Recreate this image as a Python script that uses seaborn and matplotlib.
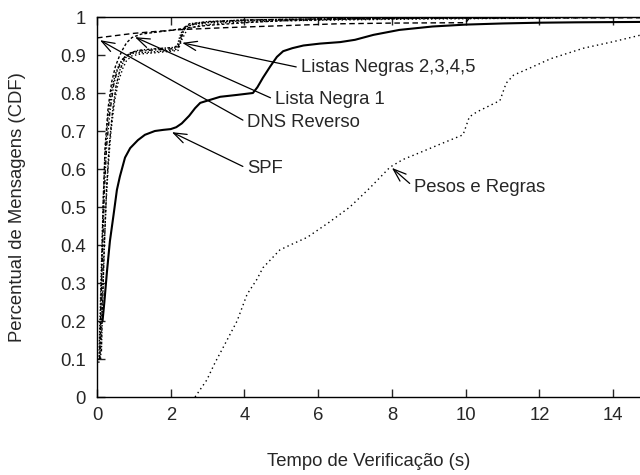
import matplotlib
matplotlib.use("Agg")
import matplotlib.pyplot as plt
import seaborn as sns

# --- CDF curves of verification time (seconds) per filtering technique ---
spf_t = [0.15, 0.2, 0.27, 0.35, 0.45, 0.54, 0.62, 0.76, 0.9, 1.11, 1.3, 1.57, 1.8,
         2.0, 2.15, 2.3, 2.5, 2.66, 2.8, 3.0, 3.34, 3.8, 4.23, 4.35, 4.5, 4.7, 4.88,
         5.05, 5.3, 5.6, 6.05, 6.6, 7.0, 7.5, 8.2, 9.1, 10.0, 11.0, 12.0, 13.0, 14.73]
spf_p = [0.20, 0.25, 0.33, 0.41, 0.48, 0.545, 0.58, 0.63, 0.655, 0.676, 0.69, 0.70,
         0.703, 0.705, 0.71, 0.72, 0.74, 0.76, 0.774, 0.78, 0.79, 0.795, 0.80, 0.815,
         0.84, 0.87, 0.895, 0.91, 0.918, 0.925, 0.93, 0.934, 0.94, 0.953, 0.966,
         0.975, 0.98, 0.983, 0.985, 0.986, 0.987]

pesos_t = [2.66, 2.98, 3.2, 3.42, 3.8, 4.07, 4.34, 4.5, 4.96, 5.24, 5.7, 6.3, 6.86,
           7.4, 7.95, 8.3, 8.68, 9.3, 9.93, 10.1, 10.3, 10.93, 11.1, 11.3, 11.75,
           12.3, 13.2, 14.0, 14.73]
pesos_p = [0.0, 0.045, 0.09, 0.13, 0.20, 0.27, 0.31, 0.34, 0.387, 0.40, 0.42, 0.46,
           0.50, 0.55, 0.605, 0.625, 0.64, 0.665, 0.69, 0.737, 0.75, 0.78, 0.826,
           0.847, 0.866, 0.89, 0.918, 0.935, 0.952]

dns_t = [0.0, 0.5, 1.0, 1.6, 2.3, 3.5, 5.0, 6.5, 8.0, 10.0, 10.1, 14.73]
dns_p = [0.945, 0.951, 0.957, 0.962, 0.967, 0.972, 0.977, 0.982, 0.984, 0.985,
         0.997, 0.998]

ln1_t = [0.08, 0.1, 0.13, 0.17, 0.22, 0.3, 0.4, 0.5, 0.6, 0.7, 0.8, 0.95, 1.2, 1.6,
         2.0, 2.5, 3.0, 4.0, 5.0, 7.0, 10.0, 14.73]
ln1_p = [0.10, 0.2, 0.35, 0.52, 0.66, 0.76, 0.83, 0.87, 0.895, 0.915, 0.932, 0.946,
         0.955, 0.96, 0.965, 0.972, 0.978, 0.985, 0.99, 0.995, 0.998, 1.0]

ln2_t = [0.05, 0.08, 0.12, 0.17, 0.22, 0.3, 0.4, 0.5, 0.6, 0.7, 0.85, 1.0, 1.5, 2.0,
         2.15, 2.25, 2.35, 2.6, 3.0, 4.0, 6.0, 10.0, 14.73]
ln2_p = [0.09, 0.2, 0.35, 0.52, 0.64, 0.74, 0.81, 0.85, 0.875, 0.89, 0.90, 0.905,
         0.908, 0.912, 0.915, 0.95, 0.972, 0.98, 0.985, 0.99, 0.994, 0.997, 1.0]

ln3_t = [0.07, 0.1, 0.15, 0.2, 0.26, 0.35, 0.45, 0.55, 0.65, 0.75, 0.9, 1.1, 1.5, 2.0,
         2.2, 2.3, 2.4, 2.7, 3.2, 4.0, 6.0, 10.0, 14.73]
ln3_p = [0.10, 0.22, 0.38, 0.54, 0.66, 0.75, 0.82, 0.86, 0.88, 0.895, 0.905, 0.91,
         0.913, 0.916, 0.92, 0.955, 0.975, 0.983, 0.988, 0.992, 0.995, 0.998, 1.0]

ln4_t = [0.1, 0.13, 0.18, 0.24, 0.3, 0.38, 0.48, 0.58, 0.7, 0.8, 0.95, 1.2, 1.6, 2.0,
         2.2, 2.3, 2.45, 2.8, 3.5, 5.0, 8.0, 12.0, 14.73]
ln4_p = [0.10, 0.21, 0.36, 0.5, 0.6, 0.7, 0.78, 0.83, 0.865, 0.885, 0.898, 0.903,
         0.906, 0.91, 0.912, 0.94, 0.968, 0.978, 0.985, 0.99, 0.994, 0.997, 1.0]

ln5_t = [0.12, 0.15, 0.2, 0.26, 0.33, 0.42, 0.52, 0.62, 0.75, 0.9, 1.1, 1.4, 1.8, 2.1,
         2.25, 2.35, 2.5, 3.0, 4.0, 6.0, 10.0, 14.73]
ln5_p = [0.12, 0.24, 0.4, 0.55, 0.66, 0.75, 0.82, 0.86, 0.89, 0.905, 0.912, 0.915,
         0.918, 0.92, 0.93, 0.965, 0.982, 0.988, 0.992, 0.995, 0.998, 1.0]

x_ticks = [0, 2, 4, 6, 8, 10, 12, 14]
y_ticks = [0, 0.1, 0.2, 0.3, 0.4, 0.5, 0.6, 0.7, 0.8, 0.9, 1]
y_tick_labels = ["0", "0.1", "0.2", "0.3", "0.4", "0.5", "0.6", "0.7", "0.8", "0.9", "1"]

sns.set_style("ticks")
plt.rcParams["font.family"] = ["Liberation Sans", "DejaVu Sans"]
plt.rcParams["font.size"] = 13.3

fig = plt.figure(figsize=(6.4, 4.75), dpi=100)
ax = fig.add_axes([97 / 640, 1 - 397 / 475, 543 / 640, 380 / 475])

series = [
    (spf_t, spf_p, "-", 1.5),
    (pesos_t, pesos_p, (0, (1, 2.4)), 1.0),
    (dns_t, dns_p, (0, (4, 2.5)), 1.0),
    (ln1_t, ln1_p, (0, (2, 1.5)), 1.0),
    (ln2_t, ln2_p, (0, (1, 1.2)), 1.0),
    (ln3_t, ln3_p, (0, (3, 1.5, 1, 1.5)), 1.0),
    (ln4_t, ln4_p, (0, (1, 1.8)), 1.0),
    (ln5_t, ln5_p, (0, (2, 1, 1, 1)), 1.0),
]
for t, p, ls, lw in series:
    sns.lineplot(x=t, y=p, ax=ax, color="black", linestyle=ls, linewidth=lw,
                 estimator=None, sort=False)

ax.set_xlim(0, 14.73)
ax.set_ylim(0, 1)
ax.set_xticks(x_ticks)
ax.set_xticklabels([str(v) for v in x_ticks])
ax.set_yticks(y_ticks)
ax.set_yticklabels(y_tick_labels)
ax.tick_params(axis="x", direction="in", top=True, length=6, width=1, pad=7)
ax.tick_params(axis="y", direction="in", right=False, length=6, width=1, pad=8)
ax.spines["right"].set_visible(False)
for s in ("left", "bottom", "top"):
    ax.spines[s].set_linewidth(1.0)
    ax.spines[s].set_color("black")

ax.set_xlabel("Tempo de Verificação (s)", va="center")
ax.set_ylabel("Percentual de Mensagens (CDF)", va="center")
ax.xaxis.set_label_coords(0.5, (397 - 462) / 380)
ax.yaxis.set_label_coords((18 - 97) / 543, 0.5)

arrow = dict(arrowstyle="->,head_length=0.7,head_width=0.25", lw=0.9, color="black",
             shrinkA=1, shrinkB=0, relpos=(0, 0.5))
notes = [
    ("Listas Negras 2,3,4,5", (2.31, 0.932), (5.53, 0.866)),
    ("Lista Negra 1", (1.03, 0.947), (4.83, 0.782)),
    ("DNS Reverso", (0.08, 0.939), (4.08, 0.722)),
    ("SPF", (2.03, 0.697), (4.08, 0.601)),
    ("Pesos e Regras", (8.0, 0.603), (8.6, 0.552)),
]
for txt, tip, pos in notes:
    ax.annotate(txt, xy=tip, xytext=pos, ha="left", va="center",
                arrowprops=arrow)

fig.savefig("out.png", dpi=100)
